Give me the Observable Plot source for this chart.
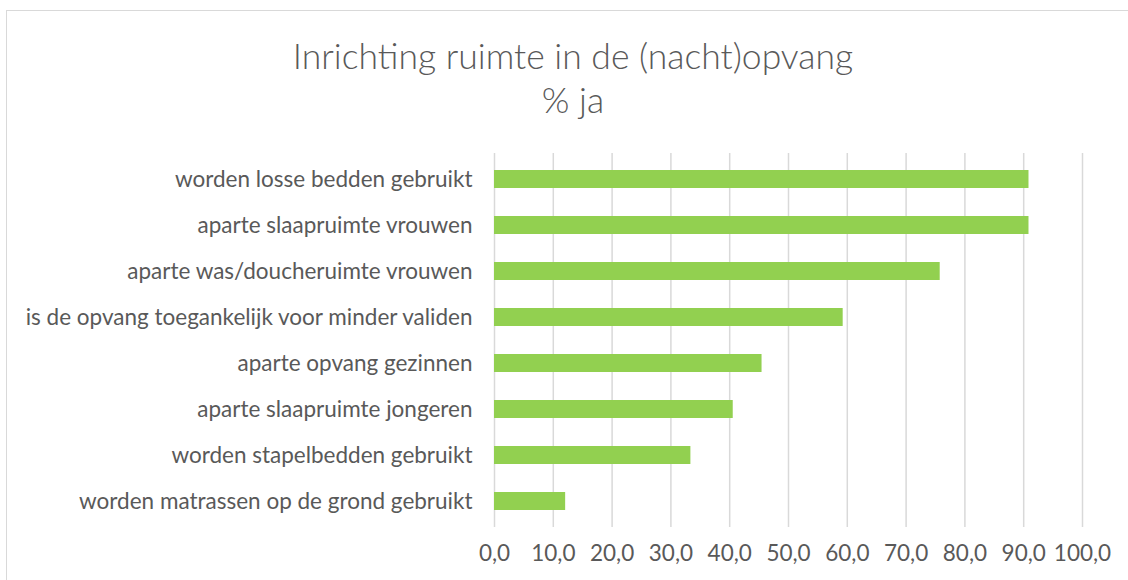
<!DOCTYPE html>
<html>
<head>
<meta charset="utf-8">
<script src="https://cdn.jsdelivr.net/npm/d3@7"></script>
<script src="https://cdn.jsdelivr.net/npm/@observablehq/plot@0.6"></script>
<style>
  html, body { margin: 0; padding: 0; background: #fff; }
  #wrap { position: relative; width: 1128px; height: 580px; overflow: hidden; font-family: Lato, "Open Sans", sans-serif; }
  #frame { position: absolute; left: 6px; top: 10px; width: 1130px; height: 580px; border: 1px solid #d9d9d9; box-sizing: border-box; }
  .ttl { position: absolute; left: 0; width: 1146px; text-align: center; color: #595959; font-size: 35.5px; font-weight: 300; line-height: 42px; }
  #chart { position: absolute; left: 0; top: 0; }
</style>
</head>
<body>
<div id="wrap">
  <div id="frame"></div>
  <div class="ttl" style="top:35px">Inrichting ruimte in de (nacht)opvang</div>
  <div class="ttl" style="top:79px">% ja</div>
  <div id="chart"></div>
</div>
<script>
const categories = [
  "worden losse bedden gebruikt",
  "aparte slaapruimte vrouwen",
  "aparte was/doucheruimte vrouwen",
  "is de opvang toegankelijk voor minder validen",
  "aparte opvang gezinnen",
  "aparte slaapruimte jongeren",
  "worden stapelbedden gebruikt",
  "worden matrassen op de grond gebruikt"
];
const values = [90.9, 90.9, 75.8, 59.3, 45.5, 40.6, 33.4, 12.1];
const xTicks = [0, 10, 20, 30, 40, 50, 60, 70, 80, 90, 100];

const data = categories.map((c, i) => ({category: c, value: values[i]}));
const fmt = d => d.toFixed(1).replace(".", ",");

const plot = Plot.plot({
  width: 1128,
  height: 580,
  marginTop: 153,
  marginBottom: 53,
  marginLeft: 494,
  marginRight: 46,
  style: {fontFamily: "Lato, 'Open Sans', sans-serif", fontSize: "22px", color: "#595959", background: "transparent"},
  x: {domain: [0, 100], ticks: xTicks, tickFormat: fmt, label: null},
  y: {domain: categories, paddingInner: 0.6, paddingOuter: 0.3, label: null},
  marks: [
    Plot.gridX(xTicks, {stroke: "#d9d9d9", strokeOpacity: 1, strokeWidth: 1.5}),
    Plot.barX(data, {x: "value", y: "category", fill: "#92d050"}),
    Plot.axisX({ticks: xTicks, tickSize: 0, tickPadding: 18, fontSize: 22.5, tickFormat: fmt, label: null}),
    Plot.axisY({tickSize: 0, tickPadding: 22, fontSize: 22.5, label: null})
  ]
});
document.getElementById("chart").appendChild(plot);
</script>
</body>
</html>
